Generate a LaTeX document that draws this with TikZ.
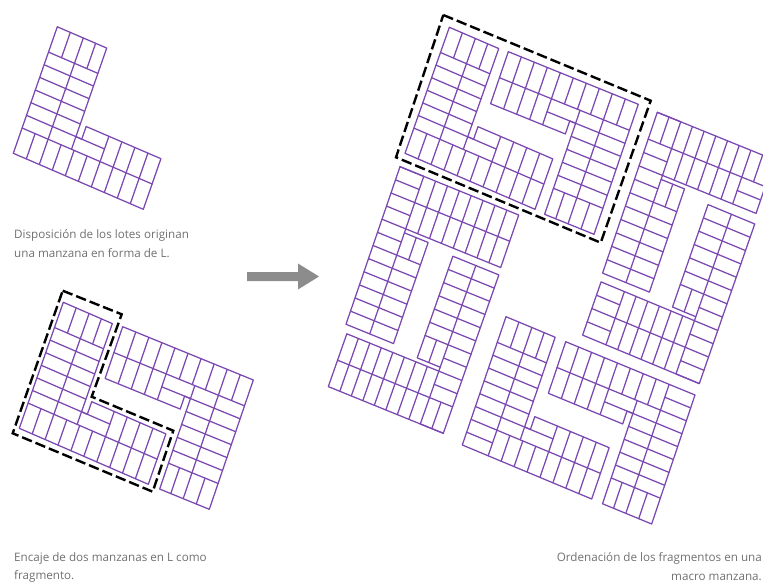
\documentclass[tikz,border=0pt]{standalone}
\usepackage{fontspec}
\setmainfont{Open Sans}
\definecolor{lotcolor}{RGB}{122,72,176}
\definecolor{capgray}{RGB}{112,112,112}
\definecolor{arrowgray}{RGB}{140,140,140}
\tikzset{
  lot/.style={draw=lotcolor,line width=1.25pt,line join=round,line cap=round},
  outlinedash/.style={draw=black,line width=2.4pt,dash pattern=on 10.5pt off 4pt,line join=miter},
  caption/.style={text=capgray,font=\fontsize{11.65pt}{18.6pt}\selectfont,inner sep=0pt}
}
% L block: arm up, foot right; #1=0 plain corner, #1=1 corner with two short lots
\newcommand\lotL[1]{%
  \draw (0,0)--(10,0)--(10,2)--(4.25,2)--(4.25,1.5)--(3.8,1.5)--(3.8,5)--(0,5)--cycle;
  \draw (0,1)--(10,1);
  \draw (0,1.5)--(6,1.5);
  \foreach \b in {2,2.5,3,3.5,4} \draw (0,\b)--(3.8,\b);
  \draw (2,1)--(2,5);
  \draw (3.8,1)--(3.8,1.5);
  \draw (1,4)--(1,5) (2.95,4)--(2.95,5);
  \foreach \a in {3,...,9} \draw (\a,0)--(\a,1);
  \foreach \a in {6,...,9} \draw (\a,1)--(\a,2);
  \ifnum#1=0 \draw (1,0)--(1,1) (2,0)--(2,1);\else \draw (0,.5)--(2,.5) (2,0)--(2,1);\fi
}
% long L block of the side fragments
\newcommand\lotM[2]{%
  \draw (2,0)--(0,0)--(0,12)--(4,12)--(4,4.3)--(2,4.3);
  \draw (0,0)--(10,0)--(10,4)--(2,4);
  \draw (0,2)--(10,2);
  \draw (2,0)--(2,12);
  \foreach \q in {3,4,5} \draw (0,\q)--(2,\q);
  \foreach \q in {6,...,11} \draw (0,\q)--(4,\q);
  \draw (3,4.3)--(3,6);
  \ifnum#1=0 \draw (1,0)--(1,2);\else \draw (0,1)--(2,1);\fi
  \foreach \p in {3,...,8} \draw (\p,0)--(\p,4);
  \ifnum#2=0 \draw (9,0)--(9,4);\fi
  \ifnum#2=1 \draw (9,0)--(9,2) (8,3)--(10,3);\fi
  \ifnum#2=2 \draw (8,1)--(10,1) (8,3)--(10,3);\fi
}
\newcommand\placed[7]{\begin{scope}[shift={(#1,#2)},x={(#3pt,#4pt)},y={(#5pt,#6pt)},lot]#7\end{scope}}
\begin{document}
\begin{tikzpicture}[yscale=-1,x=1pt,y=1pt]
\path[use as bounding box] (0,0) rectangle (763,583);
\clip (0,0) rectangle (763,583);
% panel 1
\placed{13.3}{153.3}{13}{5.6}{8.8}{-25.3}{\lotL{0}}
% panel 2
\placed{19.3}{428.3}{12.9}{5.6}{8.8}{-25.2}{\lotL{0}}
\placed{253.3}{380}{-13.06}{-5.33}{-8.8}{25.86}{\lotL{0}}
\draw[outlinedash] (62.7,290.7)--(121.7,314.3)--(91.7,396.7)--(173.3,430.7)--(152.7,491.7)--(12.7,433.3)--cycle;
% panel 3: top fragment
\placed{405}{153.3}{13}{5.6}{8.87}{-25.2}{\lotL{0}}
\placed{638.3}{104.3}{-13}{-5.26}{-8.86}{26}{\lotL{0}}
\draw[outlinedash] (443.3,15)--(650.7,100.7)--(600.7,242.7)--(396,157.3)--cycle;
% bottom fragment
\placed{462.3}{445}{12.94}{5.4}{8.74}{-25.66}{\lotL{1}}
\placed{695}{395}{-12.93}{-5.33}{-8.67}{25.8}{\lotL{1}}
% left fragment
\placed{400}{166.7}{11.87}{4.83}{-4.5}{13.13}{\lotM{1}{0}}
\placed{443.3}{433.3}{-11.5}{-4.67}{4.63}{-13.2}{\lotM{0}{0}}
% right fragment
\placed{657.3}{112.3}{11.7}{4.75}{-4.56}{13.4}{\lotM{0}{1}}
\placed{699.3}{383.6}{-11.67}{-4.85}{4.62}{-13.3}{\lotM{1}{2}}
% arrow
\fill[arrowgray] (247,272)--(298,272)--(298,263.5)--(319,276.5)--(298,289.5)--(298,281)--(247,281)--cycle;
% captions
\node[caption,anchor=north west,align=left] (capa) at (14,229.5) {Disposición de los lotes originan\\una manzana en forma de L.};
\node[caption,anchor=north west,align=left] (capb) at (14,552) {Encaje de dos manzanas en L como\\fragmento.};
\node[caption,anchor=north east,align=right] (capc) at (762,552.5) {Ordenación de los fragmentos en una\\macro manzana.};
\end{tikzpicture}
\end{document}
